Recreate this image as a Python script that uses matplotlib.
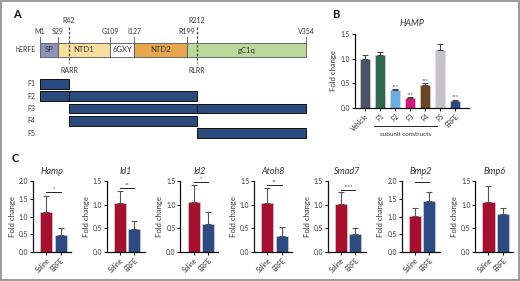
import numpy as np
import matplotlib
matplotlib.use('Agg')
import matplotlib.pyplot as plt
from matplotlib.patches import Rectangle

plt.rcParams['font.family'] = ['Lato', 'DejaVu Sans']

# ---- panel A: ERFE domain map ----
domain_names = ['SP', 'NTD1', '6GXY', 'NTD2', 'gC1q']
domain_start = [1, 29, 109, 127, 199]
domain_end = [29, 109, 127, 199, 354]
domain_colors = ['#8e92bb', '#f8dfa0', '#ffffff', '#e6a74f', '#bcd89c']
site_labels = ['M1', 'S29', 'G109', 'I127', 'R199', 'V354']
site_pos = [1, 29, 109, 127, 199, 354]
cleave_labels = ['R42', 'R212']
cleave_pos = [42, 212]
cleave_motifs = ['RARR', 'RLRR']
fragments = ['F1', 'F2', 'F3', 'F4', 'F5']
frag_start = [1, 1, 42, 42, 212]
frag_end = [42, 212, 354, 212, 354]

# ---- panel B: HAMP with subunit constructs ----
b_labels = ['Vehicle', 'F1', 'F2', 'F3', 'F4', 'F5', 'ERFE']
b_vals = [0.99, 1.08, 0.36, 0.20, 0.46, 1.17, 0.14]
b_err = [0.09, 0.05, 0.02, 0.02, 0.04, 0.13, 0.03]
b_sig = ['', '', '***', '***', '***', '', '***']
b_colors = ['#4b5466', '#2f6a4e', '#6aaee0', '#d2177f', '#6a4522', '#c4c2c8', '#2b4a7e']

# ---- panel C: gene expression, saline vs ERFE ----
genes = ['Hamp', 'Id1', 'Id2', 'Atoh8', 'Smad7', 'Bmp2', 'Bmp6']
groups = ['Saline', 'ERFE']
saline_vals = [1.12, 1.03, 1.05, 1.04, 1.01, 1.01, 1.05]
saline_err = [0.47, 0.26, 0.37, 0.31, 0.25, 0.22, 0.35]
erfe_vals = [0.47, 0.48, 0.60, 0.34, 0.38, 1.44, 0.80]
erfe_err = [0.22, 0.18, 0.25, 0.19, 0.12, 0.26, 0.14]
gene_ymax = [2.0, 1.5, 1.5, 1.5, 1.5, 2.0, 1.5]
gene_sig = ['*', '**', '*', '**', '****', '*', '']
sig_height = [1.70, 1.35, 1.48, 1.42, 1.31, 1.97, None]

W, H = 520, 281
fig = plt.figure(figsize=(W / 100, H / 100), dpi=100)


def fx(px):
    return px / W


def fy(py):
    return 1 - py / H


navy = '#2b4a7e'
txt = '#333333'

# the domain map is schematic, not to scale: piecewise-linear axis scale
scale_res = [-60, 1, 29, 42, 109, 127, 199, 212, 354, 450]
scale_pos = [-6, 40, 58, 69, 110, 134, 187, 197, 306, 378]


def fwd(r):
    return np.interp(r, scale_res, scale_pos)


def inv(p):
    return np.interp(p, scale_pos, scale_res)


# ---------------- A ----------------
axA = fig.add_axes([fx(20), fy(140), fx(310), 135 / H])
axA.set_xscale('function', functions=(fwd, inv))
axA.set_xlim(-25.5, 385.9)
axA.set_ylim(7.32, -3.66)
axA.axis('off')

for name, s, e, c in zip(domain_names, domain_start, domain_end, domain_colors):
    axA.add_patch(Rectangle((s, -0.57), e - s, 1.14, facecolor=c,
                            edgecolor='#555555', lw=0.6))
    axA.text(inv((fwd(s) + fwd(e)) / 2), 0, name, ha='center', va='center',
             fontsize=5.5, color=txt)
axA.text(-4, 0, 'hERFE', ha='right', va='center', fontsize=5, color=txt)

for lab, p in zip(site_labels, site_pos):
    axA.plot([p, p], [-1.05, -0.57], color='#555555', lw=0.6)
    axA.text(p, -1.25, lab, ha='center', va='bottom', fontsize=5, color=txt)

for lab, p, motif in zip(cleave_labels, cleave_pos, cleave_motifs):
    axA.plot([p, p], [-1.9, 1.05], color='#444444', lw=0.9, ls=(0, (2, 1.5)))
    axA.text(p, -2.15, lab, ha='center', va='bottom', fontsize=5, color=txt)
    axA.text(p, 1.65, motif, ha='center', va='center', fontsize=5, color=txt)

for i, (name, s, e) in enumerate(zip(fragments, frag_start, frag_end)):
    y = 2.76 + i * 1.0
    axA.add_patch(Rectangle((s, y - 0.4), e - s, 0.8, facecolor=navy,
                            edgecolor='#111111', lw=0.7))
    for p in cleave_pos:
        if s < p < e:
            axA.plot([p, p], [y - 0.4, y + 0.4], color='#111111', lw=0.7)
    axA.text(-5, y, name, ha='right', va='center', fontsize=5, color=txt)

# ---------------- B ----------------
axB = fig.add_axes([fx(355), fy(108), fx(114), 74 / H])
xb = np.arange(len(b_labels))
axB.bar(xb, b_vals, width=0.65, color=b_colors, edgecolor='#dddddd', lw=0.4)
axB.errorbar(xb, b_vals, yerr=[np.zeros(len(b_err)), b_err], fmt='none',
             ecolor='#444444', elinewidth=0.8, capsize=2, capthick=0.8)
for x, v, e, s in zip(xb, b_vals, b_err, b_sig):
    if s:
        axB.text(x, v + e + 0.01, s, ha='center', va='bottom', fontsize=4, color=txt)
axB.set_xlim(-0.67, 6.93)
axB.set_ylim(0, 1.5)
axB.set_yticks([0, 0.5, 1.0, 1.5])
axB.set_yticklabels(['0.0', '0.5', '1.0', '1.5'])
axB.set_xticks(xb)
axB.set_xticklabels(b_labels, rotation=45, ha='right', rotation_mode='anchor')
axB.set_title('HAMP', fontsize=6.5, style='italic', pad=6, color=txt)
axB.set_ylabel('Fold change', fontsize=5.5, labelpad=3, color=txt)
axB.plot([0.6, 4.8], [-0.245, -0.245], transform=axB.get_xaxis_transform(),
         color='#222222', lw=0.7, clip_on=False)
axB.text(2.7, -0.36, 'subunit constructs', transform=axB.get_xaxis_transform(),
         ha='center', va='center', fontsize=4.5, color=txt)

# ---------------- C ----------------
axes_c = []
for i, g in enumerate(genes):
    ax = fig.add_axes([fx(33 + i * 73.7), fy(252), fx(38), 71 / H])
    axes_c.append(ax)
    vals = [saline_vals[i], erfe_vals[i]]
    errs = [saline_err[i], erfe_err[i]]
    ax.bar([0, 1], vals, width=0.85, color=['#a5102e', '#2d4b80'],
           edgecolor='#d8d8e8', lw=0.4)
    ax.errorbar([0, 1], vals, yerr=[[0, 0], errs], fmt='none', ecolor='#555555',
                elinewidth=0.8, capsize=2, capthick=0.8)
    if gene_sig[i]:
        h = sig_height[i]
        ax.plot([0, 1], [h, h], color='#222222', lw=0.7, clip_on=False)
        ax.text(0.5, h + 0.01 * gene_ymax[i], gene_sig[i], ha='center', va='bottom',
                fontsize=4, color=txt)
    ax.set_xlim(-0.93, 1.73)
    ax.set_ylim(0, gene_ymax[i])
    ticks = np.arange(0, gene_ymax[i] + 0.01, 0.5)
    ax.set_yticks(ticks)
    ax.set_yticklabels(['%.1f' % t for t in ticks])
    ax.set_xticks([0, 1])
    ax.set_xticklabels(groups, rotation=45, ha='right', rotation_mode='anchor')
    ax.set_title(g, fontsize=6.5, style='italic', pad=5, color=txt)
    ax.set_ylabel('Fold change', fontsize=5.5, labelpad=2, color=txt)

for ax in [axB] + axes_c:
    for sp in ['top', 'right']:
        ax.spines[sp].set_visible(False)
    for sp in ['left', 'bottom']:
        ax.spines[sp].set_linewidth(0.9)
        ax.spines[sp].set_color('#111111')
    ax.tick_params(axis='both', labelsize=4.8, length=2, width=0.7, pad=1.5,
                   colors='#111111', labelcolor=txt)

fig.text(fx(13), fy(14), 'A', fontsize=8, fontweight='bold', va='center', color='#111111')
fig.text(fx(332), fy(14), 'B', fontsize=8, fontweight='bold', va='center', color='#111111')
fig.text(fx(12), fy(158), 'C', fontsize=8, fontweight='bold', va='center', color='#111111')

fig.add_artist(Rectangle((0.001, 0.004), 0.997, 0.994, transform=fig.transFigure,
                         fill=False, edgecolor='#8a8a8a', lw=1.2))

fig.savefig('out.png', dpi=100)
